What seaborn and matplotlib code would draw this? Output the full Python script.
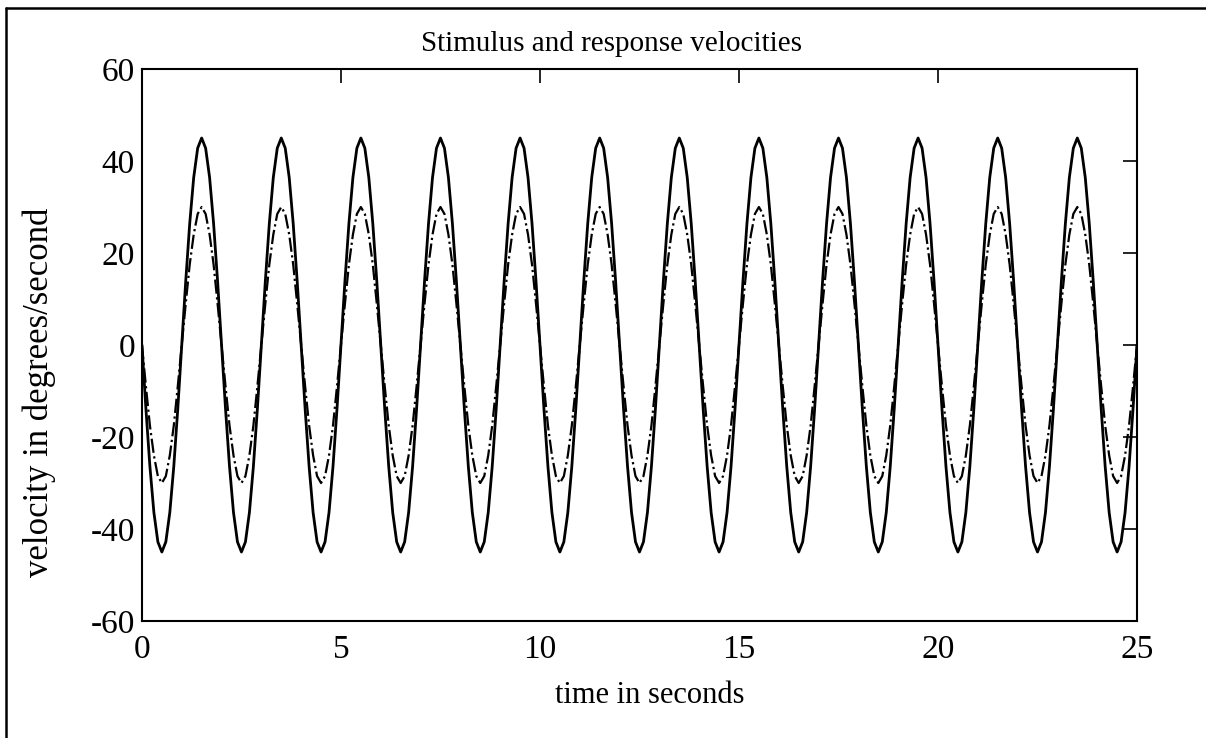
import numpy as np
import pandas as pd
import matplotlib
matplotlib.use("Agg")
import matplotlib.pyplot as plt
from matplotlib.lines import Line2D
import seaborn as sns

# Values read from one 2-second cycle (sampled every 0.1 s), cycle repeated over 25 s
sample_step = 0.1
n_cycles = 12.5
stimulus_cycle = [0, -13.9, -26.4, -36.4, -42.8, -45, -42.8, -36.4, -26.4, -13.9,
                  0, 13.9, 26.4, 36.4, 42.8, 45, 42.8, 36.4, 26.4, 13.9]
response_cycle = [0, -9.0, -17.5, -24.0, -28.5, -30, -28.5, -24.0, -17.5, -9.0,
                  0, 9.0, 17.5, 24.0, 28.5, 30, 28.5, 24.0, 17.5, 9.0]

n_pts = int(round(n_cycles * len(stimulus_cycle))) + 1
stim = np.resize(stimulus_cycle, n_pts)
resp = np.resize(response_cycle, n_pts)
t = np.arange(n_pts) * sample_step

df = pd.DataFrame({"t": t, "stimulus": stim, "response": resp})

sns.set_style("white")
plt.rcParams["font.family"] = ["Liberation Serif", "DejaVu Serif"]
plt.rcParams["xtick.direction"] = "in"
plt.rcParams["ytick.direction"] = "in"
plt.rcParams["axes.unicode_minus"] = False
plt.rcParams["text.color"] = "black"
plt.rcParams["axes.labelcolor"] = "black"

fig = plt.figure(figsize=(12.06, 7.38), dpi=100)
ax = fig.add_axes([0.1177, 0.1585, 0.9428 - 0.1177, 0.9065 - 0.1585])

sns.lineplot(data=df, x="t", y="stimulus", ax=ax, color="black", linewidth=2.0)
sns.lineplot(data=df, x="t", y="response", ax=ax, color="black", linewidth=1.6,
             linestyle="-.")

ax.set_xlim(0, 25)
ax.set_ylim(-60, 60)
ax.set_xticks([0, 5, 10, 15, 20, 25])
ax.set_yticks([-60, -40, -20, 0, 20, 40, 60])
ax.tick_params(axis="both", which="both", length=10, width=1.2, labelsize=24,
               top=True, right=True, color="black", labelcolor="black")
ax.tick_params(axis="x", pad=10)
ax.tick_params(axis="y", pad=5)
for s in ax.spines.values():
    s.set_color("black")
    s.set_linewidth(1.5)

ax.set_title("Stimulus and response velocities", fontsize=21, color="black",
             x=0.472, y=1.0, pad=13)
ax.set_xlabel("time in seconds", fontsize=22)
ax.set_ylabel("velocity in degrees/second", fontsize=25)
ax.xaxis.set_label_coords(0.51, -0.108)
ax.yaxis.set_label_coords(-0.086, 0.415)

# outer frame (top and left edges)
fig.add_artist(Line2D([0.005, 1.0], [0.989, 0.989], transform=fig.transFigure,
                      color="black", linewidth=1.8))
fig.add_artist(Line2D([0.005, 0.005], [0.0, 0.989], transform=fig.transFigure,
                      color="black", linewidth=1.8))

fig.savefig("out.png", dpi=100, facecolor="white")
